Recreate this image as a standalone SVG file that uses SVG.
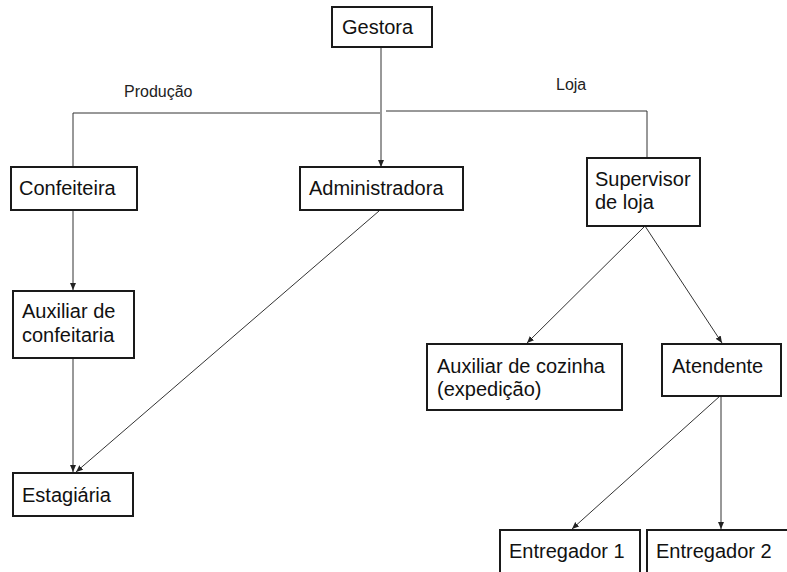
<svg xmlns="http://www.w3.org/2000/svg" width="787" height="572" viewBox="0 0 787 572">
<style>
.box{fill:#fff;stroke:#1a1a1a;stroke-width:2}
.t{font-family:"Liberation Sans",Arial,sans-serif;font-size:20px;fill:#111}
.lbl{font-family:"Liberation Sans",Arial,sans-serif;font-size:16px;fill:#222}
.c{fill:none;stroke:#333;stroke-width:1}
</style>
<defs>
<marker id="ah" markerUnits="userSpaceOnUse" markerWidth="8" markerHeight="8" refX="7" refY="3" orient="auto">
<path d="M0,0 L7,3 L0,6 Z" fill="#222"/>
</marker>
</defs>
<rect width="787" height="572" fill="#fff"/>
<g id="connectors">
<path class="c" d="M381,47 V167" marker-end="url(#ah)"/>
<path class="c" d="M380,113 H73 V167"/>
<path class="c" d="M386,111 H647 V158"/>
<text class="lbl" x="124" y="97">Produção</text>
<text class="lbl" x="556" y="90">Loja</text>
<path class="c" d="M73,210 V290" marker-end="url(#ah)"/>
<path class="c" d="M73,358 V472" marker-end="url(#ah)"/>
<path class="c" d="M379,211 L76,472" marker-end="url(#ah)"/>
<path class="c" d="M645,226 L527,343" marker-end="url(#ah)"/>
<path class="c" d="M645,226 L722,343" marker-end="url(#ah)"/>
<path class="c" d="M720,396 L572,529" marker-end="url(#ah)"/>
<path class="c" d="M721,396 V529" marker-end="url(#ah)"/>
</g>
<g id="gestora"><rect class="box" x="332" y="7" width="100" height="40"/><text class="t" x="342" y="34">Gestora</text></g>
<g id="confeiteira"><rect class="box" x="11" y="167" width="126" height="43"/><text class="t" x="19" y="195">Confeiteira</text></g>
<g id="administradora"><rect class="box" x="300" y="167" width="163" height="43"/><text class="t" x="309" y="195">Administradora</text></g>
<g id="supervisor"><rect class="box" x="587" y="158" width="113" height="68"/><text class="t" x="595" y="186">Supervisor</text><text class="t" x="595" y="209">de loja</text></g>
<g id="aux-confeitaria"><rect class="box" x="13" y="291" width="121" height="67"/><text class="t" x="22" y="318">Auxiliar de</text><text class="t" x="22" y="342">confeitaria</text></g>
<g id="estagiaria"><rect class="box" x="13" y="473" width="120" height="43"/><text class="t" x="22" y="502">Estagiária</text></g>
<g id="aux-cozinha"><rect class="box" x="427" y="344" width="195" height="66"/><text class="t" x="437" y="373">Auxiliar de cozinha</text><text class="t" x="437" y="396">(expedição)</text></g>
<g id="atendente"><rect class="box" x="662" y="344" width="119" height="52"/><text class="t" x="672" y="373">Atendente</text></g>
<g id="entregador1"><rect class="box" x="500" y="530" width="140" height="60"/><text class="t" x="509" y="558">Entregador 1</text></g>
<g id="entregador2"><rect class="box" x="647" y="530" width="160" height="60"/><text class="t" x="656" y="558">Entregador 2</text></g>
</svg>
